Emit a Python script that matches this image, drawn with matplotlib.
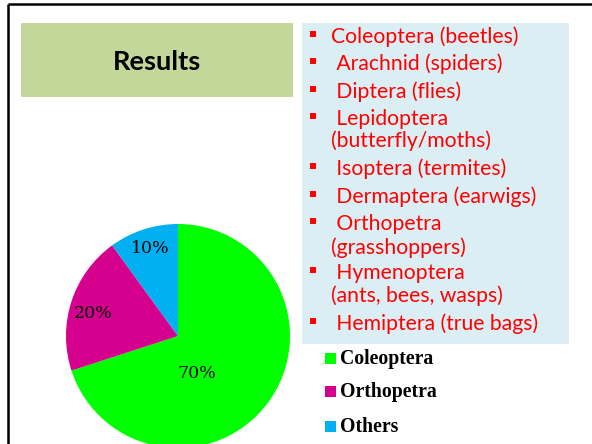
import matplotlib
matplotlib.use('Agg')
import matplotlib.pyplot as plt
from matplotlib.patches import Rectangle

#%% DATA
# ----------------------
title = 'Results'
insect_lines = [
    ('Coleoptera (beetles)', True),
    (' Arachnid (spiders)', True),
    (' Diptera (flies)', True),
    (' Lepidoptera', True),
    ('(butterfly/moths)', False),
    (' Isoptera (termites)', True),
    (' Dermaptera (earwigs)', True),
    (' Orthopetra', True),
    ('(grasshoppers)', False),
    (' Hymenoptera', True),
    ('(ants, bees, wasps)', False),
    (' Hemiptera (true bags)', True),
]
categories = ['Coleoptera', 'Orthopetra', 'Others']
shares = [70, 20, 10]
colors = ['#00FF00', '#D6008F', '#00B0F0']
# ----------------------

W, H = 592, 444
fig = plt.figure(figsize=(W/100, H/100), dpi=100)
ax = fig.add_axes([0, 0, 1, 1])

def Y(y):
    # convert image row (top-down) to axis y
    return H - y

# slide frame
ax.plot([7.5, 7.5], [Y(4), Y(444)], color='black', lw=1.8, solid_capstyle='butt')
ax.plot([7.5, 592], [Y(4.3), Y(4.3)], color='black', lw=1.8, solid_capstyle='butt')

# title box
ax.add_patch(Rectangle((21, Y(97)), 272, 74, color='#C4D79B', lw=0))
ax.text(157, Y(62), title, ha='center', va='center', fontsize=19.5,
        fontweight='bold', family='Lato', color='black')

# insect list box
ax.add_patch(Rectangle((302, Y(344)), 267, 321, color='#DAEEF3', lw=0))
line_y = [37, 64, 92, 119, 141, 169, 197, 224, 248, 273, 296, 324]
for (txt, bullet), yy in zip(insect_lines, line_y):
    if bullet:
        ax.add_patch(Rectangle((310, Y(yy) - 0.5), 6, 6, color='#FF0000', lw=0))
    ax.text(331, Y(yy), txt, ha='left', va='center', fontsize=15.2,
            family='Lato', color='#FF0000')

# pie
wedges, texts = ax.pie(shares, colors=colors, startangle=90, counterclock=False,
                       center=(178, Y(336)), radius=112, frame=True,
                       wedgeprops=dict(linewidth=0))
label_pos = [(197, 373), (93, 313), (150, 249)]
for s, (lx, ly) in zip(shares, label_pos):
    ax.text(lx, Y(ly), '{0}%'.format(s), ha='center', va='center',
            fontsize=12.5, family='DejaVu Serif', color='black')

# legend
leg_y = [359, 392, 427]
for cat, col, yy in zip(categories, colors, leg_y):
    ax.add_patch(Rectangle((325, Y(yy) - 5), 11, 11, color=col, lw=0))
    ax.text(340, Y(yy), cat, ha='left', va='center', fontsize=14.2,
            fontweight='bold', family='Liberation Serif', color='black')

ax.set_xlim(0, W)
ax.set_ylim(0, H)
ax.set_aspect('equal')
ax.axis('off')

fig.savefig('out.png', dpi=100)
